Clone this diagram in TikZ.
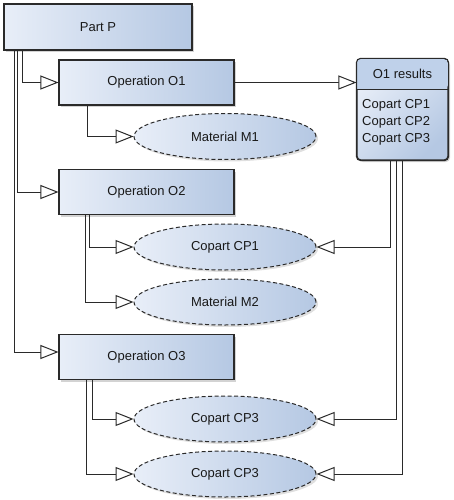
\documentclass[tikz,border=0pt]{standalone}
\usepackage{fontspec}
\setmainfont{Liberation Sans}
\usetikzlibrary{arrows.meta,shadows,calc,shapes.geometric}
\definecolor{lightB}{HTML}{E8EEF8}
\definecolor{darkB}{HTML}{B5C8E3}
\definecolor{hdrB}{HTML}{BFD1EA}
\definecolor{lineC}{HTML}{2A2A2A}
\tikzset{
  every node/.style={font=\fontsize{13}{15}\selectfont, text=black!90},
  opbox/.style={rectangle, draw=lineC, line width=1.1pt, left color=lightB, right color=darkB,
     minimum width=175pt, minimum height=45pt, inner sep=0pt,
     drop shadow={shadow xshift=2pt, shadow yshift=-2pt, opacity=0.35, fill=gray}},
  ellbox/.style={ellipse, draw=lineC, line width=1pt, dash pattern=on 4pt off 2.5pt, left color=lightB, right color=darkB,
     minimum width=182pt, minimum height=46pt, inner sep=0pt,
     drop shadow={shadow xshift=2pt, shadow yshift=-2pt, opacity=0.25, fill=gray}},
  conn/.style={draw=lineC, line width=1pt, -{Triangle[length=18pt, width=14pt, fill=white, line width=1pt]}},
}
\begin{document}
\begin{tikzpicture}[x=1pt, y=-1pt]
\useasboundingbox (0,0) rectangle (453,500);
% boxes
\node[opbox, minimum width=188pt, minimum height=46pt] (P) at (98,27) {Part P};
\node[opbox] (O1) at (146.5,82.5) {Operation O1};
\node[opbox] (O2) at (146.5,192) {Operation O2};
\node[opbox] (O3) at (146.5,357) {Operation O3};
% ellipses
\node[ellbox] (M1) at (225,136.5) {Material M1};
\node[ellbox] (CP1) at (225,247) {Copart CP1};
\node[ellbox] (M2) at (225,302) {Material M2};
\node[ellbox] (CP3a) at (225,419) {Copart CP3};
\node[ellbox] (CP3b) at (225,474) {Copart CP3};
% results box
\node[rectangle, rounded corners=4pt, draw=lineC, line width=1.1pt,
      shading=axis, left color=lightB, right color=darkB, shading angle=45,
      minimum width=91pt, minimum height=101pt, inner sep=0pt,
      drop shadow={shadow xshift=2pt, shadow yshift=-2pt, opacity=0.35, fill=gray}] (res) at (402.5,109.5) {};
\fill[hdrB, rounded corners=4pt] ([shift={(0.6pt,-0.6pt)}]res.north west) -- ([shift={(-0.6pt,-0.6pt)}]res.north east) -- ([xshift=-0.6pt]res.east |- 0,89) [sharp corners] -- ([xshift=0.6pt]res.west |- 0,89) -- cycle;
\draw[draw=lineC, line width=1.1pt, rounded corners=4pt] (res.south west) rectangle (res.north east);
\draw[lineC, line width=0.8pt] (res.west |- 0,89) -- (res.east |- 0,89);
\node (resH) at (402.5,74) {O1 results};
\node[anchor=west, align=left, inner sep=0pt, font=\fontsize{13}{17}\selectfont] (resI) at (362,122.5) {Copart CP1\\Copart CP2\\Copart CP3};
% connectors from Part P
\draw[conn] ([xshift=19pt]P.south west) |- (O1.west);
\draw[conn] ([xshift=14pt]P.south west) |- (O2.west);
\draw[conn] ([xshift=11pt]P.south west) |- ([yshift=5pt]O3.west);
% from operations
\draw[conn] ([xshift=29pt]O1.south west) |- (M1.west);
\draw[conn] ([xshift=31pt]O2.south west) |- (CP1.west);
\draw[conn] ([xshift=27pt]O2.south west) |- (M2.west);
\draw[conn] ([xshift=34pt]O3.south west) |- (CP3a.west);
\draw[conn] ([xshift=28pt]O3.south west) |- (CP3b.west);
% O1 to results
\draw[conn] (O1.east) -- (O1.east -| res.west);
% results to coparts
\draw[conn] ([xshift=34pt]res.south west) |- (CP1.east);
\draw[conn] ([xshift=40pt]res.south west) |- (CP3a.east);
\draw[conn] ([xshift=46pt]res.south west) |- (CP3b.east);
\end{tikzpicture}
\end{document}
